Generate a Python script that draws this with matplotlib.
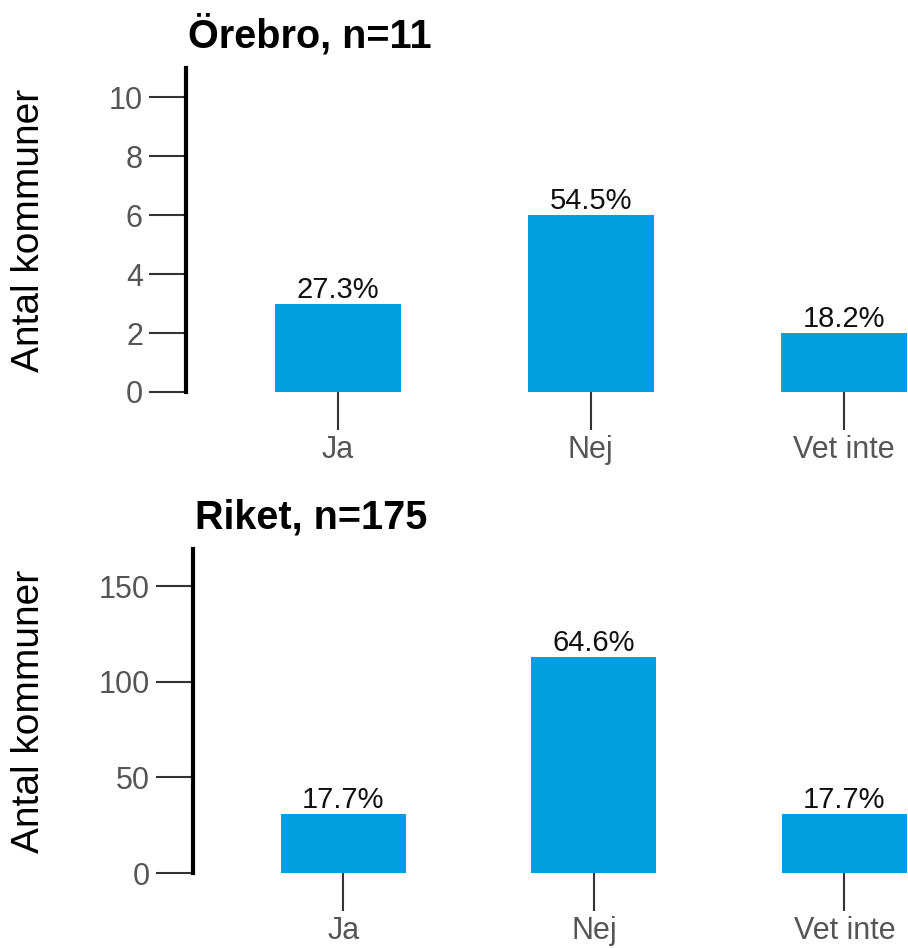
import matplotlib
matplotlib.use("Agg")
import matplotlib.pyplot as plt

plt.rcParams['font.family'] = ['Liberation Sans', 'DejaVu Sans']

categories = ["Ja", "Nej", "Vet inte"]

orebro_counts = [3, 6, 2]
orebro_pct = ["27.3%", "54.5%", "18.2%"]
orebro_title = "Örebro, n=11"
orebro_ticks = [0, 2, 4, 6, 8, 10]

riket_counts = [31, 113, 31]
riket_pct = ["17.7%", "64.6%", "17.7%"]
riket_title = "Riket, n=175"
riket_ticks = [0, 50, 100, 150]

bar_color = "#009FE0"
tick_color = "#333333"
label_color = "#555555"


def draw_panel(ax, counts, pcts, title, yticks, ytop):
    x = list(range(len(categories)))
    bars = ax.bar(x, counts, width=0.5, color=bar_color, clip_on=True)
    for b, p in zip(bars, pcts):
        ax.text(b.get_x() + b.get_width() / 2, b.get_height(), p,
                ha="center", va="bottom", fontsize=21, color="#111111")
    ax.set_xlim(-0.6, 2.25)
    ax.set_ylim(0, ytop)
    ax.set_xticks(x)
    ax.set_xticklabels(categories)
    ax.set_yticks(yticks)
    for s in ["top", "right", "bottom"]:
        ax.spines[s].set_visible(False)
    ax.spines["left"].set_linewidth(3)
    ax.spines["left"].set_color("black")
    ax.tick_params(axis="both", length=27, width=1.5, color=tick_color,
                   labelsize=22, labelcolor=label_color, pad=4)
    ax.set_ylabel("Antal kommuner", fontsize=28, color="black")
    ax.set_title(title, fontsize=28.5, fontweight="bold", loc="left",
                 x=0.003, pad=15)


fig = plt.figure(figsize=(9.08, 9.48), dpi=100)
ax1 = fig.add_axes([0.2048, 0.5865, 0.7941, 0.3418])
ax2 = fig.add_axes([0.2126, 0.0791, 0.7863, 0.3418])

draw_panel(ax1, orebro_counts, orebro_pct, orebro_title, orebro_ticks, 11)
draw_panel(ax2, riket_counts, riket_pct, riket_title, riket_ticks, 169.5)

ax1.yaxis.set_label_coords(-0.193, 0.5)
ax2.yaxis.set_label_coords(-0.204, 0.5)

fig.savefig("out.png", dpi=100)
